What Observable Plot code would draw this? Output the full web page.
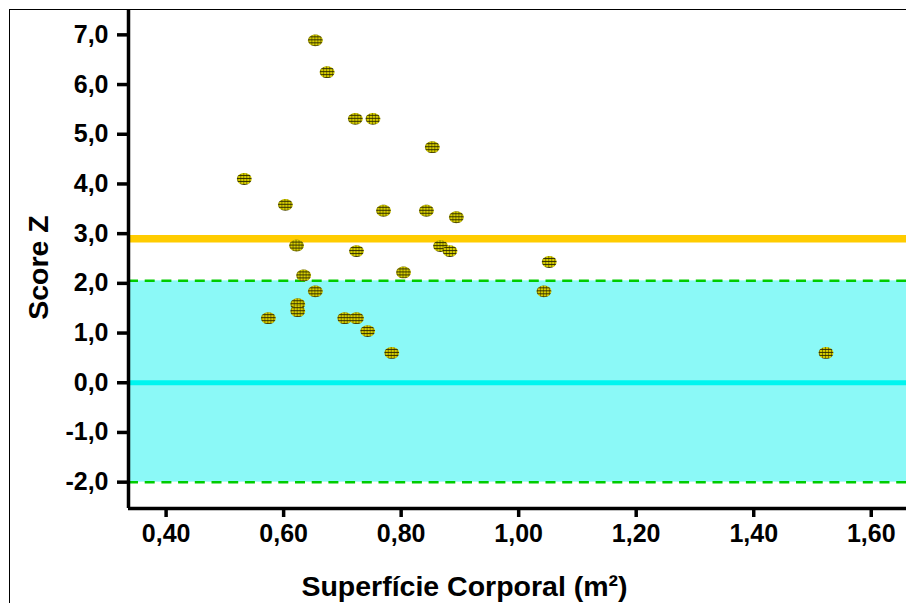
<!DOCTYPE html>
<html>
<head>
<meta charset="utf-8">
<script src="https://cdn.jsdelivr.net/npm/d3@7"></script>
<script src="https://cdn.jsdelivr.net/npm/@observablehq/plot@0.6"></script>
<style>
  html, body { margin: 0; padding: 0; overflow: hidden; background: #fff; }
  #wrap { position: relative; width: 906px; height: 603px; overflow: hidden; }
  #frame { position: absolute; left: 9px; top: 9px; width: 2000px; height: 2000px;
           border-top: 1.5px solid #000; border-left: 1.5px solid #000; pointer-events: none; z-index: 2; }
</style>
</head>
<body>
<div id="wrap"><div id="frame"></div></div>
<script>
// Data
const bsa    = [0.654, 0.674, 0.722, 0.752, 0.853, 0.533, 0.603, 0.770, 0.843, 0.894, 0.622, 0.724, 0.867, 0.883, 0.634, 0.804, 1.052, 0.654, 0.624, 0.624, 0.574, 0.704, 0.724, 0.743, 0.784, 1.043, 1.523];
const scoreZ = [6.89, 6.25, 5.31, 5.31, 4.74, 4.10, 3.58, 3.46, 3.46, 3.33, 2.76, 2.65, 2.75, 2.65, 2.16, 2.22, 2.43, 1.84, 1.58, 1.44, 1.30, 1.30, 1.30, 1.04, 0.60, 1.84, 0.60];
const xTicks = [0.4, 0.6, 0.8, 1.0, 1.2, 1.4, 1.6];
const yTicks = [-2, -1, 0, 1, 2, 3, 4, 5, 6, 7];
const normalBand = [{low: -2, high: 2.05}];
const bandLimits = [-2, 2.05];
const upperLine = [2.9];
const meanLine = [0];
const xDomain = [0.336, 1.66];
const yDomain = [-2.53, 7.49];
const xLabel = "Superfície Corporal (m²)";
const yLabel = "Score Z";

const points = bsa.map((x, i) => ({x, y: scoreZ[i]}));
const comma = (d, n) => d.toFixed(n).replace(".", ",");

const ellipse = {
  draw(ctx, size) {
    const r = Math.sqrt(size / Math.PI);
    const rx = r, ry = r * 0.8, k = 0.5523;
    ctx.moveTo(rx, 0);
    ctx.bezierCurveTo(rx, k * ry, k * rx, ry, 0, ry);
    ctx.bezierCurveTo(-k * rx, ry, -rx, k * ry, -rx, 0);
    ctx.bezierCurveTo(-rx, -k * ry, -k * rx, -ry, 0, -ry);
    ctx.bezierCurveTo(k * rx, -ry, rx, -k * ry, rx, 0);
    ctx.closePath();
  }
};

const font = "'Liberation Sans', Arial, Helvetica, sans-serif";

const chart = Plot.plot({
  width: 906,
  height: 603,
  marginLeft: 128,
  marginRight: 0,
  marginTop: 10,
  marginBottom: 95,
  style: {fontFamily: font, fontWeight: "bold", color: "#000", background: "transparent", overflow: "visible"},
  x: {domain: xDomain},
  y: {domain: yDomain},
  marks: [
    Plot.rect(normalBand, {y1: "low", y2: "high", fill: "#8bf9f7"}),
    Plot.ruleY(bandLimits, {stroke: "#00cc00", strokeWidth: 2.5, strokeDasharray: "10,6.7"}),
    Plot.ruleY(meanLine, {stroke: "#00f5ef", strokeWidth: 5}),
    Plot.ruleY(upperLine, {stroke: "#ffcc00", strokeWidth: 7.5}),
    Plot.dot(points, {x: "x", y: "y", r: 7.4, symbol: ellipse, fill: "url(#hatch)"}),
    Plot.ruleX([xDomain[0]], {stroke: "#000", strokeWidth: 3.5}),
    Plot.ruleY([yDomain[0]], {stroke: "#000", strokeWidth: 3.5}),
    Plot.axisY({ticks: yTicks, tickFormat: d => comma(d, 1), tickSize: 11, tickPadding: 9,
                strokeWidth: 3.5, fontSize: 25, fontWeight: "bold", label: null}),
    Plot.axisX({ticks: xTicks, tickFormat: d => comma(d, 2), tickSize: 9, tickPadding: 7,
                strokeWidth: 3.5, fontSize: 25, fontWeight: "bold", label: null}),
    Plot.text([yLabel], {text: d => d, frameAnchor: "left", textAnchor: "middle", dx: -90, dy: 8, rotate: -90,
                         fontSize: 28.5, fontWeight: "bold", fill: "#000"}),
    Plot.text([xLabel], {text: d => d, frameAnchor: "bottom", textAnchor: "middle", dx: -53, dy: 78.5, lineAnchor: "middle",
                         fontSize: 28.5, fontWeight: "bold", fill: "#000"})
  ]
});

d3.select(chart).insert("defs", ":first-child").html(`
  <pattern id="hatch" patternUnits="userSpaceOnUse" width="3" height="3">
    <rect width="3" height="3" fill="#d6ce00"/>
    <rect x="0" y="2" width="3" height="1" fill="#2a2600" opacity="0.9"/>
    <rect x="2" y="0" width="1" height="3" fill="#2a2600" opacity="0.5"/>
  </pattern>`);

document.getElementById("wrap").appendChild(chart);
</script>
</body>
</html>
